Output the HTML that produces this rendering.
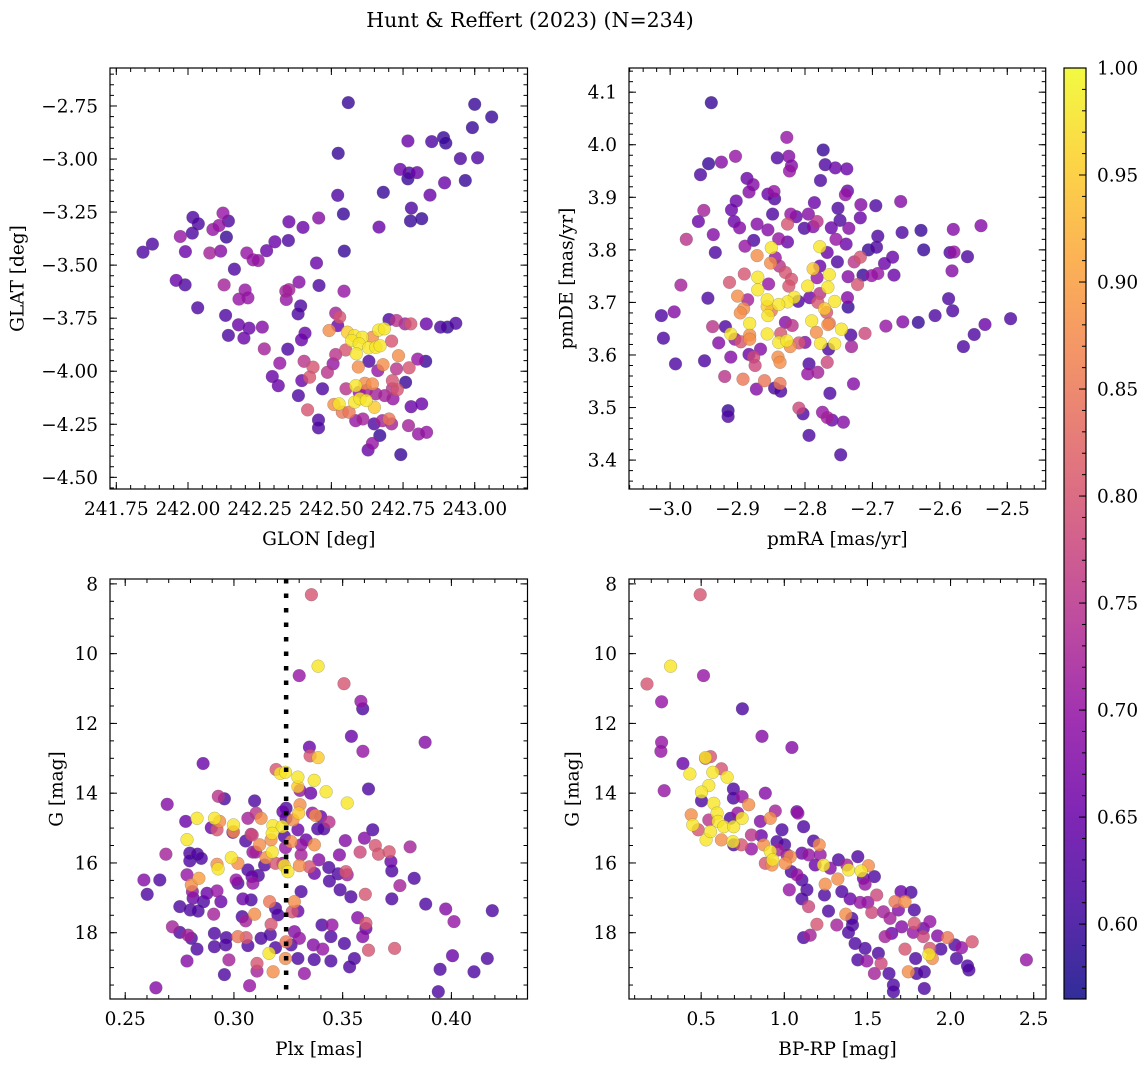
<!DOCTYPE html>
<html><head><meta charset="utf-8"><style>
html,body{margin:0;padding:0;background:#fff;}
svg{display:block;font-family:"DejaVu Serif","Liberation Serif",serif;}
</style></head><body>
<svg id="fig" width="1148" height="1067" viewBox="0 0 1148 1067" xmlns="http://www.w3.org/2000/svg">
<text x="530" y="27" font-size="20.5" text-anchor="middle">Hunt &amp; Reffert (2023) (N=234)</text>
</svg>
<script>
// ---- Panel 1 data: GLON / GLAT ----
const glonVals=[242.559,243.0,243.059,242.992,242.767,242.85,242.891,242.899,242.95,243.01,242.524,242.74,242.771,242.799,242.767,242.895,242.967,242.681,242.844,242.522,242.779,242.776,242.815,242.666,242.542,242.545,242.456,242.401,242.352,242.35,242.303,242.274,242.205,242.227,242.245,242.122,242.141,242.017,242.036,242.087,242.108,242.134,242.015,241.973,241.991,242.076,242.114,241.876,241.843,241.959,241.99,242.162,242.126,242.199,242.178,242.209,242.034,242.131,242.176,242.213,242.141,242.195,242.259,242.448,242.387,242.341,242.352,242.343,242.457,242.544,242.393,242.384,242.408,242.396,242.266,242.348,242.32,242.294,242.315,242.385,242.417,242.397,242.405,242.436,242.424,242.469,242.455,242.455,242.486,242.506,242.515,242.529,242.492,242.522,242.556,242.58,242.608,242.571,242.597,242.63,242.655,242.67,242.665,242.685,242.587,242.643,242.55,242.515,242.594,242.631,242.68,242.662,242.734,242.727,242.771,242.801,242.829,242.71,242.701,242.727,242.757,242.777,242.831,242.881,242.905,242.934,242.585,242.617,242.643,242.551,242.597,242.622,242.655,242.686,242.713,242.73,242.713,242.759,242.715,242.509,242.527,242.581,242.6,242.622,242.65,242.538,242.562,242.585,242.61,242.649,242.678,242.701,242.71,242.669,242.643,242.628,242.742,242.769,242.804,242.832,242.778,242.815];
const glatVals=[-2.734,-2.742,-2.802,-2.852,-2.915,-2.918,-2.899,-2.925,-2.998,-2.994,-2.973,-3.049,-3.066,-3.064,-3.093,-3.112,-3.101,-3.157,-3.17,-3.171,-3.231,-3.292,-3.281,-3.321,-3.259,-3.434,-3.278,-3.322,-3.296,-3.384,-3.39,-3.432,-3.443,-3.475,-3.478,-3.255,-3.292,-3.275,-3.305,-3.332,-3.313,-3.368,-3.349,-3.365,-3.436,-3.443,-3.434,-3.401,-3.439,-3.572,-3.593,-3.519,-3.593,-3.617,-3.66,-3.654,-3.701,-3.737,-3.781,-3.797,-3.831,-3.844,-3.792,-3.49,-3.58,-3.623,-3.616,-3.662,-3.596,-3.623,-3.692,-3.73,-3.821,-3.852,-3.895,-3.896,-3.962,-4.025,-4.068,-4.115,-4.182,-4.044,-3.953,-3.981,-4.028,-4.083,-4.23,-4.267,-4.005,-3.965,-3.726,-3.745,-3.808,-3.785,-3.816,-3.832,-3.84,-3.855,-3.871,-3.89,-3.887,-3.88,-3.806,-3.8,-3.918,-3.84,-3.9,-3.921,-3.98,-3.953,-3.969,-3.997,-3.927,-3.989,-3.984,-3.943,-3.953,-3.858,-3.756,-3.761,-3.777,-3.777,-3.777,-3.792,-3.792,-3.774,-4.068,-4.057,-4.06,-4.083,-4.099,-4.091,-4.107,-4.115,-4.083,-4.087,-4.044,-4.052,-4.13,-4.157,-4.154,-4.146,-4.13,-4.138,-4.17,-4.193,-4.193,-4.233,-4.225,-4.248,-4.233,-4.225,-4.248,-4.303,-4.34,-4.371,-4.393,-4.256,-4.296,-4.288,-4.167,-4.154];
const probA=[.6,.6,.6,.6,.65,.62,.6,.6,.62,.62,.6,.65,.62,.65,.6,.65,.6,.6,.65,.62,.62,.6,.6,.65,.6,.6,.68,.65,.65,.62,.65,.65,.7,.7,.7,.7,.62,.62,.62,.7,.7,.6,.62,.7,.65,.72,.68,.62,.62,.65,.62,.62,.72,.7,.7,.7,.62,.62,.65,.65,.62,.65,.68,.65,.68,.72,.72,.7,.62,.7,.62,.62,.65,.65,.72,.62,.7,.65,.65,.62,.8,.65,.75,.8,.8,.62,.62,.62,.75,.7,.72,.8,.88,.65,.95,.98,.98,.98,.98,.98,.98,.98,.98,.98,.98,.88,.8,.75,.88,.62,.88,.7,.88,.75,.8,.7,.6,.8,.62,.75,.72,.8,.65,.62,.6,.62,.98,.88,.88,.75,.7,.72,.72,.72,.75,.8,.8,.6,.7,.88,.98,.98,.98,.98,.95,.85,.85,.7,.72,.62,.72,.85,.72,.6,.7,.65,.6,.72,.7,.7,.65,.65];

// ---- Panel 2 data: pmRA / pmDE ----
const pmraVals=[-2.939,-2.827,-2.773,-2.943,-2.924,-2.903,-2.955,-2.841,-2.824,-2.82,-2.823,-2.77,-2.755,-2.738,-2.777,-2.886,-2.877,-2.883,-2.855,-2.846,-2.845,-2.848,-2.902,-2.909,-2.905,-2.897,-2.95,-2.958,-2.976,-2.936,-2.933,-2.871,-2.855,-2.826,-2.821,-2.813,-2.786,-2.801,-2.788,-2.782,-2.795,-2.751,-2.748,-2.761,-2.735,-2.737,-2.74,-2.717,-2.718,-2.695,-2.658,-2.692,-2.706,-2.694,-2.656,-2.628,-2.624,-2.58,-2.539,-2.585,-2.579,-2.559,-2.582,-2.587,-2.581,-2.607,-2.632,-2.655,-2.68,-2.495,-2.533,-2.549,-2.565,-2.67,-2.682,-2.668,-2.692,-2.701,-2.714,-2.718,-2.727,-2.722,-2.736,-2.752,-2.754,-2.739,-2.767,-2.778,-2.788,-2.764,-2.766,-2.756,-2.796,-2.778,-2.782,-2.793,-2.778,-2.781,-2.737,-2.736,-2.771,-2.768,-2.79,-2.766,-2.783,-2.764,-2.746,-2.732,-2.731,-2.711,-2.777,-2.756,-2.765,-2.8,-2.809,-2.816,-2.826,-2.81,-2.839,-2.85,-2.855,-2.856,-2.856,-2.839,-2.827,-2.822,-2.829,-2.819,-2.836,-2.84,-2.837,-2.866,-2.882,-2.882,-2.882,-2.91,-2.904,-2.895,-2.918,-2.928,-2.937,-2.9,-2.891,-2.896,-2.885,-2.912,-2.89,-2.87,-2.87,-2.856,-2.854,-2.871,-2.85,-2.851,-2.844,-2.838,-2.829,-2.82,-2.824,-2.876,-2.889,-2.839,-2.826,-2.984,-2.944,-3.013,-2.994,-3.01,-2.992,-2.949,-2.91,-2.919,-2.892,-2.883,-2.876,-2.874,-2.872,-2.86,-2.845,-2.837,-2.836,-2.794,-2.796,-2.781,-2.767,-2.728,-2.763,-2.914,-2.914,-2.809,-2.803,-2.774,-2.767,-2.76,-2.743,-2.794,-2.747];
const pmdeVals=[4.080,4.014,3.99,3.964,3.967,3.978,3.943,3.975,3.978,3.96,3.95,3.962,3.956,3.954,3.932,3.936,3.924,3.91,3.906,3.911,3.897,3.868,3.893,3.876,3.854,3.842,3.875,3.854,3.82,3.829,3.795,3.849,3.838,3.849,3.868,3.863,3.89,3.841,3.844,3.854,3.868,3.879,3.856,3.842,3.841,3.912,3.905,3.886,3.861,3.884,3.892,3.826,3.8,3.805,3.833,3.837,3.8,3.839,3.846,3.795,3.796,3.787,3.76,3.707,3.684,3.675,3.662,3.663,3.655,3.669,3.658,3.639,3.616,3.786,3.774,3.752,3.755,3.751,3.752,3.786,3.777,3.734,3.749,3.777,3.82,3.811,3.795,3.806,3.764,3.753,3.729,3.702,3.731,3.769,3.747,3.709,3.717,3.7,3.709,3.691,3.688,3.681,3.665,3.658,3.643,3.66,3.649,3.638,3.616,3.641,3.622,3.621,3.611,3.624,3.623,3.71,3.701,3.702,3.696,3.684,3.675,3.692,3.64,3.624,3.627,3.616,3.662,3.656,3.641,3.596,3.586,3.611,3.66,3.638,3.63,3.64,3.63,3.625,3.654,3.623,3.654,3.712,3.688,3.68,3.705,3.738,3.754,3.748,3.724,3.705,3.735,3.789,3.804,3.775,3.785,3.769,3.757,3.744,3.731,3.818,3.807,3.821,3.815,3.733,3.708,3.675,3.682,3.632,3.583,3.589,3.596,3.559,3.554,3.601,3.596,3.58,3.535,3.551,3.537,3.546,3.531,3.583,3.564,3.567,3.586,3.545,3.527,3.494,3.483,3.499,3.488,3.491,3.481,3.476,3.472,3.447,3.41];
const probB=[.6,.7,.6,.6,.68,.7,.62,.62,.68,.68,.7,.62,.65,.65,.62,.65,.68,.68,.65,.7,.62,.62,.65,.65,.65,.68,.72,.65,.75,.68,.62,.68,.68,.8,.7,.65,.65,.62,.68,.75,.68,.62,.62,.65,.68,.65,.7,.68,.65,.62,.68,.62,.6,.62,.62,.6,.6,.68,.68,.62,.7,.62,.68,.62,.62,.62,.6,.68,.7,.62,.65,.62,.62,.65,.65,.65,.7,.7,.6,.8,.75,.8,.68,.62,.7,.65,.65,.98,.95,.98,.98,.98,.98,.65,.7,.65,.75,.8,.68,.6,.95,.8,.98,.88,.88,.85,.98,.62,.72,.78,.98,.98,.62,.68,.8,.98,.98,.62,.98,.85,.98,.95,.98,.98,.98,.88,.68,.75,.8,.88,.88,.68,.98,.88,.88,.98,.7,.8,.62,.68,.75,.88,.88,.88,.72,.8,.8,.98,.98,.98,.7,.88,.98,.88,.7,.75,.8,.8,.8,.62,.7,.7,.65,.72,.62,.62,.68,.62,.62,.62,.68,.75,.85,.65,.78,.78,.68,.85,.62,.85,.62,.62,.7,.72,.78,.68,.62,.6,.62,.78,.62,.7,.72,.65,.68,.62,.62];

// ---- Panel 3 data: Plx / G ----
const plxVals=[0.3356,0.3387,0.33,0.3506,0.3584,0.3592,0.354,0.3879,0.3593,0.3347,0.335,0.3387,0.2858,0.3194,0.3213,0.3237,0.3294,0.3294,0.3304,0.3353,0.3369,0.3424,0.3619,0.3521,0.2928,0.2956,0.2693,0.3095,0.3304,0.3298,0.324,0.324,0.3271,0.3361,0.3375,0.3399,0.3437,0.2778,0.283,0.2911,0.2934,0.2896,0.2922,0.2998,0.2998,0.2995,0.3064,0.3102,0.3125,0.3054,0.3084,0.3179,0.3222,0.3176,0.3171,0.3118,0.31,0.3176,0.3148,0.3191,0.3225,0.3232,0.3248,0.3263,0.3237,0.3294,0.3332,0.3309,0.3309,0.3301,0.3347,0.337,0.337,0.3385,0.3413,0.339,0.3436,0.3479,0.3515,0.3521,0.3485,0.3512,0.358,0.36,0.3638,0.365,0.3665,0.3714,0.3722,0.3726,0.3763,0.381,0.3829,0.3726,0.3882,0.3974,0.4012,0.4188,0.4005,0.4165,0.4104,0.3948,0.394,0.3439,0.3488,0.3538,0.3604,0.3569,0.3607,0.3607,0.3592,0.3619,0.3739,0.3508,0.3554,0.3532,0.3446,0.3451,0.3405,0.3446,0.3365,0.3408,0.3369,0.3324,0.3294,0.3278,0.3301,0.3263,0.324,0.3237,0.3278,0.3268,0.3294,0.3309,0.3164,0.3191,0.3202,0.3171,0.3167,0.3191,0.3161,0.318,0.3125,0.3106,0.3106,0.3072,0.3095,0.3041,0.3079,0.3038,0.3054,0.3018,0.3056,0.3064,0.2965,0.2962,0.2956,0.2977,0.291,0.291,0.283,0.2784,0.2789,0.2804,0.2751,0.2717,0.2751,0.2799,0.2835,0.286,0.2812,0.2809,0.2876,0.2922,0.294,0.2907,0.2784,0.2804,0.2839,0.2797,0.2797,0.2832,0.285,0.2784,0.2687,0.2586,0.2659,0.2601,0.2641,0.2988,0.3018,0.2922,0.2927,0.301,0.3018,0.3064,0.3083,0.3087,0.3112,0.3141,0.3087,0.3079,0.3232,0.3225];
const gPlxVals=[8.31,10.36,10.63,10.86,11.37,11.58,12.37,12.54,12.8,12.68,12.93,12.98,13.15,13.32,13.43,13.4,13.54,13.81,13.92,14.0,13.63,13.96,13.88,14.28,14.09,14.16,14.32,14.22,14.33,14.57,14.43,14.72,14.77,14.57,14.64,14.67,14.83,14.81,14.72,14.72,14.81,14.99,15.05,14.91,15.1,15.12,14.72,14.57,14.72,15.37,15.2,14.93,14.96,15.15,15.34,15.48,15.69,15.69,15.85,16.01,16.01,16.08,16.25,15.39,15.56,15.05,15.34,15.48,15.77,16.08,16.11,16.3,15.48,15.02,15.02,15.91,16.13,16.31,16.25,16.34,15.77,15.36,15.69,15.29,15.05,15.5,15.75,15.68,15.96,16.23,16.65,15.54,16.44,17.03,17.18,17.32,17.68,17.37,18.66,18.74,19.12,19.05,19.69,16.52,16.77,16.97,16.9,17.57,17.73,17.88,18.11,18.5,18.45,18.31,18.74,18.98,18.11,17.78,17.78,18.81,18.35,18.47,18.77,19.17,18.74,17.97,18.16,18.35,18.26,18.74,17.11,17.4,17.38,16.82,17.11,17.3,17.49,17.76,18.05,18.43,18.59,19.12,18.16,18.88,19.1,19.52,17.47,17.03,17.06,17.54,17.66,18.11,18.14,18.37,18.14,18.35,19.2,18.78,18.02,18.4,18.47,18.81,18.07,18.16,17.99,17.83,17.25,17.35,17.38,17.11,17.01,16.82,16.87,16.8,17.11,17.47,16.34,16.63,16.44,15.72,15.94,15.75,15.87,15.33,15.75,16.49,16.49,16.9,19.58,15.85,16.01,16.04,16.17,16.49,16.58,16.2,16.39,16.58,16.36,16.06,15.69,15.18,15.24,14.53];
const probC=[.8,.98,.7,.8,.7,.62,.65,.68,.7,.65,.8,.95,.65,.8,.98,.98,.98,.95,.7,.65,.98,.98,.62,.98,.75,.62,.68,.62,.88,.95,.62,.62,.88,.7,.88,.65,.75,.65,.98,.98,.88,.65,.8,.98,.88,.65,.72,.75,.88,.62,.78,.98,.98,.98,.88,.88,.72,.98,.88,.8,.7,.98,.98,.88,.7,.65,.65,.7,.72,.88,.8,.65,.88,.62,.62,.68,.62,.62,.8,.72,.68,.68,.78,.68,.62,.8,.8,.8,.65,.62,.72,.72,.62,.62,.62,.68,.7,.62,.65,.62,.62,.62,.62,.62,.62,.62,.8,.68,.8,.65,.68,.8,.8,.62,.62,.62,.62,.7,.62,.62,.68,.7,.62,.7,.62,.68,.7,.62,.85,.88,.88,.8,.65,.62,.85,.62,.62,.8,.62,.62,.98,.88,.62,.8,.72,.7,.88,.65,.62,.62,.72,.85,.8,.62,.62,.62,.62,.72,.62,.62,.62,.68,.72,.62,.62,.72,.62,.62,.62,.62,.65,.7,.65,.7,.65,.72,.7,.88,.9,.62,.62,.62,.62,.98,.72,.68,.62,.62,.68,.98,.88,.88,.98,.7,.62,.62,.65,.7,.62,.62,.7,.75,.62,.65];

// ---- Panel 4 data: BP-RP / G ----
const bprpVals=[0.494,0.316,0.514,0.174,0.262,0.748,0.866,1.046,0.262,0.258,0.278,0.39,0.526,0.556,0.526,0.432,0.622,0.57,0.656,0.546,0.502,0.502,0.576,0.694,0.694,0.746,0.786,0.886,0.44,0.45,0.482,0.53,0.556,0.596,0.602,0.546,0.622,0.636,0.69,0.696,0.676,0.72,0.746,0.696,0.742,0.802,0.802,0.856,0.916,0.946,0.862,0.876,0.886,0.916,0.93,0.926,0.956,0.986,0.962,1.002,1.016,1.036,1.006,1.042,1.076,1.082,1.116,1.076,1.106,1.136,1.106,1.146,1.03,1.106,1.146,1.176,1.21,1.216,1.186,1.236,1.246,1.242,1.266,1.196,1.156,1.116,1.316,1.276,1.326,1.322,1.346,1.376,1.386,1.442,1.462,1.506,1.476,1.542,1.486,1.396,1.37,1.406,1.41,1.386,1.456,1.502,1.526,1.556,1.596,1.636,1.666,1.726,1.702,1.762,1.782,1.686,1.426,1.486,1.442,1.496,1.542,1.582,1.63,1.656,1.656,1.606,1.646,1.706,1.726,1.746,1.796,1.842,1.79,1.842,1.87,1.89,1.876,1.942,1.836,1.776,1.782,1.836,1.876,1.922,1.982,2.026,2.066,2.13,2.036,2.102,2.11,2.456,1.566];
const gColVals=[8.31,10.36,10.63,10.87,11.38,11.58,12.37,12.69,12.54,12.8,13.93,13.15,13.0,12.95,12.98,13.45,13.3,13.4,13.54,13.78,13.97,14.22,14.29,13.88,14.14,14.1,14.33,14.0,14.62,14.91,15.05,15.34,15.1,14.57,14.81,14.77,15.34,14.96,15.39,14.96,14.72,14.57,14.72,15.48,15.48,15.2,15.6,14.81,14.72,14.51,15.22,15.48,16.01,15.67,15.91,16.06,15.39,15.05,15.63,15.48,15.77,15.82,16.01,16.25,14.53,14.57,14.96,16.34,16.49,16.77,17.03,17.25,16.77,15.72,15.77,15.37,15.48,15.77,16.06,16.06,16.61,16.92,17.38,17.76,18.07,18.14,17.78,16.15,15.91,16.46,16.82,16.06,16.2,15.82,16.23,16.08,16.44,16.39,16.61,17.03,17.47,17.59,17.78,17.99,17.13,17.13,17.42,16.92,17.4,17.59,17.11,17.11,16.82,16.84,17.35,17.35,18.31,18.45,18.78,18.81,19.17,18.88,19.17,19.5,19.69,18.11,18.02,17.83,18.47,19.12,19.17,19.6,18.74,19.12,18.62,18.74,18.45,18.47,18.11,17.99,17.73,17.88,17.68,18.09,18.14,18.35,18.43,18.26,18.74,18.95,19.07,18.78,18.59];
const probD=[.8,.98,.7,.8,.7,.62,.68,.68,.7,.7,.7,.65,.8,.8,.98,.98,.8,.98,.98,.98,.98,.62,.98,.62,.62,.7,.88,.68,.88,.98,.8,.98,.98,.98,.98,.75,.88,.98,.98,.98,.62,.7,.98,.62,.8,.75,.7,.68,.88,.72,.65,.88,.8,.98,.98,.88,.62,.62,.72,.62,.7,.88,.88,.62,.65,.7,.62,.7,.62,.62,.62,.78,.7,.65,.7,.62,.88,.7,.65,.98,.88,.62,.62,.8,.72,.62,.72,.68,.62,.88,.62,.72,.98,.62,.98,.88,.65,.62,.7,.65,.88,.62,.62,.62,.7,.7,.78,.78,.72,.72,.85,.88,.65,.62,.62,.68,.62,.62,.62,.7,.72,.78,.62,.62,.62,.72,.65,.68,.8,.88,.62,.62,.62,.62,.98,.88,.8,.62,.78,.7,.8,.65,.7,.68,.85,.62,.7,.8,.62,.62,.62,.7,.62];

// ---- tick definitions ----
const p1XTicks=[241.75,242.0,242.25,242.5,242.75,243.0];
const p1YTicks=[-2.75,-3.0,-3.25,-3.5,-3.75,-4.0,-4.25,-4.5];
const p2XTicks=[-3.0,-2.9,-2.8,-2.7,-2.6,-2.5];
const p2YTicks=[3.4,3.5,3.6,3.7,3.8,3.9,4.0,4.1];
const p3XTicks=[0.25,0.30,0.35,0.40];
const gTicks=[8,10,12,14,16,18];
const p4XTicks=[0.5,1.0,1.5,2.0,2.5];
const cbTicks=[0.60,0.65,0.70,0.75,0.80,0.85,0.90,0.95,1.00];
const plxLine=0.324;
const cbMin=0.565, cbMax=1.0;

const NS='http://www.w3.org/2000/svg';
const svg=document.getElementById('fig');
const FS=18.5;
function mk(tag,attrs,parent){const e=document.createElementNS(NS,tag);for(const k in attrs)e.setAttribute(k,attrs[k]);(parent||svg).appendChild(e);return e;}
const plasma=[[13,8,135],[65,4,157],[106,0,168],[143,13,164],[177,42,144],[204,71,120],[225,100,98],[242,132,75],[252,166,54],[252,206,37],[240,249,33]];
function cmap(v){let t=(v-cbMin)/(cbMax-cbMin);t=Math.max(0,Math.min(1,t))*10;const i=Math.min(9,Math.floor(t)),f=t-i;const a=plasma[i],b=plasma[i+1];return 'rgb('+a.map((c,k)=>Math.round(c+(b[k]-c)*f)).join(',')+')';}
function fmt(v,d){return (v<0?'\u2212':'')+Math.abs(v).toFixed(d);}

function panel(cfg){
  const g=mk('g',{});
  
  
  const sx=v=>cfg.L+(v-cfg.xmin)/(cfg.xmax-cfg.xmin)*(cfg.R-cfg.L);
  const sy=v=>cfg.T+(v-cfg.ytop)/(cfg.ybot-cfg.ytop)*(cfg.B-cfg.T);
  const idx=cfg.xs.map((_,i)=>i).sort((a,b)=>cfg.ps[a]-cfg.ps[b]);
  const pg=mk('g',{},g);
  
  
  idx.forEach(i=>{
    const c=mk('circle',{cx:sx(cfg.xs[i]).toFixed(1),cy:sy(cfg.ys[i]).toFixed(1),r:6.4,fill:cmap(cfg.ps[i]),'fill-opacity':0.8,stroke:'#666','stroke-width':0.4,'stroke-opacity':0.6},pg);
    
    
  });
  if(cfg.vline!==undefined){
    const l=mk('line',{x1:sx(cfg.vline),x2:sx(cfg.vline),y1:cfg.T,y2:cfg.B,stroke:'#000','stroke-width':4.5,'stroke-dasharray':'4.5 10'},g);
    
    
  }
  const fr=mk('rect',{x:cfg.L,y:cfg.T,width:cfg.R-cfg.L,height:cfg.B-cfg.T,fill:'none',stroke:'#000','stroke-width':1.2},g);
  
  
  const tk=mk('g',{stroke:'#000','stroke-width':1},g);
  const mn=(a,b,st)=>{const out=[];const s=Math.ceil(a/st-1e-6);for(let k=s;k*st<=b+1e-9;k++)out.push(k*st);return out;};
  const xlo=Math.min(cfg.xmin,cfg.xmax),xhi=Math.max(cfg.xmin,cfg.xmax);
  const ylo=Math.min(cfg.ytop,cfg.ybot),yhi=Math.max(cfg.ytop,cfg.ybot);
  mn(xlo,xhi,cfg.xminor).forEach(v=>{const x=sx(v);mk('line',{x1:x,x2:x,y1:cfg.B,y2:cfg.B-4},tk);mk('line',{x1:x,x2:x,y1:cfg.T,y2:cfg.T+4},tk);});
  mn(ylo,yhi,cfg.yminor).forEach(v=>{const y=sy(v);mk('line',{x1:cfg.L,x2:cfg.L+4,y1:y,y2:y},tk);mk('line',{x1:cfg.R,x2:cfg.R-4,y1:y,y2:y},tk);});
  cfg.xt.forEach(v=>{const x=sx(v);mk('line',{x1:x,x2:x,y1:cfg.B,y2:cfg.B-7},tk);mk('line',{x1:x,x2:x,y1:cfg.T,y2:cfg.T+7},tk);
    const t=mk('text',{x:x,y:cfg.B+26,'font-size':FS,'text-anchor':'middle'},g);t.textContent=fmt(v,cfg.xd);
    });
  cfg.yt.forEach(v=>{const y=sy(v);mk('line',{x1:cfg.L,x2:cfg.L+7,y1:y,y2:y},tk);mk('line',{x1:cfg.R,x2:cfg.R-7,y1:y,y2:y},tk);
    const t=mk('text',{x:cfg.L-12,y:y+6.5,'font-size':FS,'text-anchor':'end'},g);t.textContent=fmt(v,cfg.yd);
    });
  const xl=mk('text',{x:(cfg.L+cfg.R)/2,y:cfg.B+56,'font-size':FS,'text-anchor':'middle'},g);xl.textContent=cfg.xlabel;
  
  const yy=(cfg.T+cfg.B)/2;
  const yl=mk('text',{x:cfg.ylx,y:yy,'font-size':FS,'text-anchor':'middle',transform:'rotate(-90 '+cfg.ylx+' '+yy+')','dominant-baseline':'central'},g);yl.textContent=cfg.ylabel;
  
}

panel({name:'glon-glat-panel',L:110,R:527.5,T:68,B:489,xmin:241.728,xmax:243.184,ytop:-2.571,ybot:-4.555,xs:glonVals,ys:glatVals,ps:probA,xt:p1XTicks,yt:p1YTicks,xd:2,yd:2,xminor:0.05,yminor:0.05,xlabel:'GLON [deg]',ylabel:'GLAT [deg]',ylx:18});
panel({name:'proper-motion-panel',L:629,R:1045.7,T:68,B:489,xmin:-3.061,xmax:-2.443,ytop:4.146,ybot:3.345,xs:pmraVals,ys:pmdeVals,ps:probB,xt:p2XTicks,yt:p2YTicks,xd:1,yd:1,xminor:0.02,yminor:0.02,xlabel:'pmRA [mas/yr]',ylabel:'pmDE [mas/yr]',ylx:567});
panel({name:'parallax-magnitude-panel',L:110,R:527.5,T:579,B:999,xmin:0.243,xmax:0.435,ytop:7.86,ybot:19.9,xs:plxVals,ys:gPlxVals,ps:probC,xt:p3XTicks,yt:gTicks,xd:2,yd:0,xminor:0.01,yminor:0.5,xlabel:'Plx [mas]',ylabel:'G [mag]',ylx:57,vline:plxLine});
panel({name:'color-magnitude-panel',L:629,R:1046,T:579,B:999,xmin:0.066,xmax:2.574,ytop:7.86,ybot:19.9,xs:bprpVals,ys:gColVals,ps:probD,xt:p4XTicks,yt:gTicks,xd:1,yd:0,xminor:0.1,yminor:0.5,xlabel:'BP-RP [mag]',ylabel:'G [mag]',ylx:573});

(function(){
  const cb=mk('g',{});
  
  
  const L=1064,R=1086,T=68,B=999;
  const defs=mk('defs',{},cb);
  const lg=mk('linearGradient',{id:'pl',x1:0,y1:1,x2:0,y2:0},defs);
  for(let k=0;k<=10;k++){mk('stop',{offset:k/10,'stop-color':'rgb('+plasma[k].join(',')+')','stop-opacity':0.85},lg);}
  mk('rect',{x:L,y:T,width:R-L,height:B-T,fill:'url(#pl)',stroke:'#000','stroke-width':1.2},cb);
  const sy=v=>B-(v-cbMin)/(cbMax-cbMin)*(B-T);
  for(let k=57;k<=100;k++){const v=k/100;const y=sy(v);mk('line',{x1:R,x2:R-4,y1:y,y2:y,stroke:'#000','stroke-width':1},cb);}
  cbTicks.forEach(v=>{const y=sy(v);mk('line',{x1:R,x2:R-7,y1:y,y2:y,stroke:'#000','stroke-width':1},cb);
    const t=mk('text',{x:R+11,y:y+6.5,'font-size':FS},cb);t.textContent=v.toFixed(2);
    });
})();
</script>
</body></html>
